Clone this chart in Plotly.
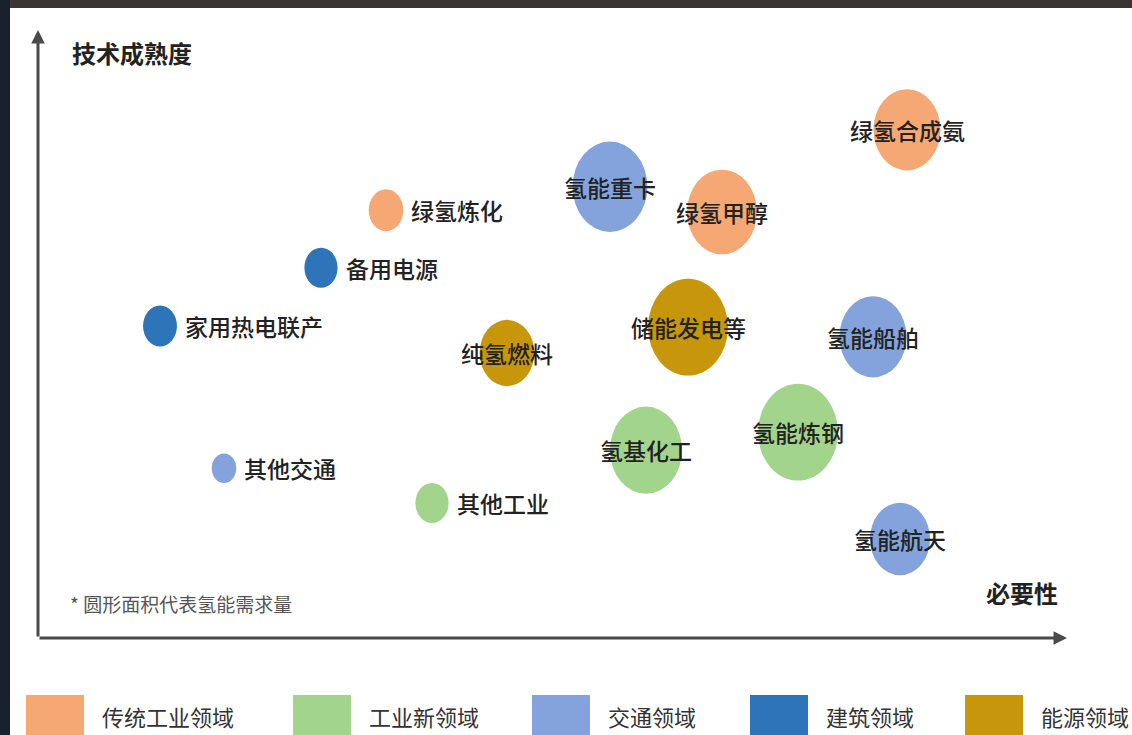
import math
import plotly.graph_objects as go

# ---- data -------------------------------------------------------------
apps = ["绿氢合成氨", "氢能重卡", "绿氢甲醇", "绿氢炼化", "备用电源", "家用热电联产",
        "纯氢燃料", "储能发电等", "氢能船舶", "氢基化工", "氢能炼钢", "其他交通",
        "其他工业", "氢能航天"]
sector = ["传统工业领域", "交通领域", "传统工业领域", "传统工业领域", "建筑领域", "建筑领域",
          "能源领域", "能源领域", "交通领域", "工业新领域", "工业新领域", "交通领域",
          "工业新领域", "交通领域"]
necessity = [8.69, 5.72, 6.84, 3.48, 2.83, 1.22, 4.69, 6.50, 8.35, 6.08, 7.60, 1.86, 3.94, 8.62]
maturity = [8.47, 7.52, 7.10, 7.13, 6.17, 5.20, 4.75, 5.18, 5.02, 3.13, 3.43, 2.83, 2.25, 1.65]
demand = [45, 56, 49, 12, 11, 11.5, 30, 64, 45, 52, 64, 6, 11, 36]
label_side = ["center", "center", "center", "right", "right", "right", "center",
              "center", "center", "center", "center", "right", "right", "center"]

sectors = ["传统工业领域", "工业新领域", "交通领域", "建筑领域", "能源领域"]
sector_colors = ["#F5A874", "#A3D48B", "#84A2DB", "#2E74B8", "#C8960A"]

# ---- geometry ---------------------------------------------------------
W, H = 1132, 735
ORIGIN_PX = (38, 638)          # where the two axis arrows meet
PX_PER_X, PX_PER_Y = 100, 60   # screen pixels per axis unit
DIAM_K = 10                    # bubble diameter (px) = DIAM_K * sqrt(demand)
V_STRETCH = 1.21               # bubbles are drawn slightly taller than wide

x_range = [-ORIGIN_PX[0] / PX_PER_X, (W - ORIGIN_PX[0]) / PX_PER_X]
y_range = [-(H - ORIGIN_PX[1]) / PX_PER_Y, ORIGIN_PX[1] / PX_PER_Y]


def px_x(p):
    return (p - ORIGIN_PX[0]) / PX_PER_X


def px_y(p):
    return (ORIGIN_PX[1] - p) / PX_PER_Y


FONT = "Noto Sans CJK SC, Noto Sans, sans-serif"
TEXT = "#222222"
color_of = dict(zip(sectors, sector_colors))

fig = go.Figure()
shapes = []
annotations = []

# bubbles: area proportional to hydrogen demand
for name, sec, x, y, d, side in zip(apps, sector, necessity, maturity, demand, label_side):
    diam = DIAM_K * math.sqrt(d)
    rx = diam / 2 / PX_PER_X
    ry = diam / 2 * V_STRETCH / PX_PER_Y
    shapes.append(dict(type="circle", xref="x", yref="y",
                       x0=x - rx, x1=x + rx, y0=y - ry, y1=y + ry,
                       fillcolor=color_of[sec], line=dict(width=0), layer="below"))
    label_font = dict(family=FONT, size=23, color=TEXT, weight=500)
    if side == "center":
        annotations.append(dict(x=x, y=y, xref="x", yref="y", text=name, showarrow=False,
                                xanchor="center", yanchor="middle", font=label_font))
    else:
        annotations.append(dict(x=x, y=y, xref="x", yref="y", text=name, showarrow=False,
                                xanchor="left", yanchor="middle", xshift=diam / 2 + 6,
                                font=label_font))

# invisible trace carrying hover info for each application
fig.add_trace(go.Scatter(
    x=necessity, y=maturity, mode="markers",
    marker=dict(size=[DIAM_K * math.sqrt(d) for d in demand], opacity=0),
    text=[f"{a}<br>{s}" for a, s in zip(apps, sector)],
    hoverinfo="text", showlegend=False))

# axis arrows
AX_COLOR = "#4a4a4a"
annotations.append(dict(x=px_x(1067), y=0, ax=0, ay=0, xref="x", yref="y",
                        axref="x", ayref="y", text="", showarrow=True,
                        arrowhead=2, arrowsize=0.9, arrowwidth=3, arrowcolor=AX_COLOR))
annotations.append(dict(x=0, y=px_y(30), ax=0, ay=0, xref="x", yref="y",
                        axref="x", ayref="y", text="", showarrow=True,
                        arrowhead=2, arrowsize=0.9, arrowwidth=3, arrowcolor=AX_COLOR))

# axis titles and footnote
annotations.append(dict(x=px_x(70), y=px_y(52), xref="x", yref="y", text="<b>技术成熟度</b>",
                        showarrow=False, xanchor="left", yanchor="middle",
                        font=dict(family=FONT, size=24, color=TEXT)))
annotations.append(dict(x=px_x(1060), y=px_y(592), xref="x", yref="y", text="<b>必要性</b>",
                        showarrow=False, xanchor="right", yanchor="middle",
                        font=dict(family=FONT, size=24, color=TEXT)))
annotations.append(dict(x=px_x(68), y=px_y(603), xref="x", yref="y",
                        text="* 圆形面积代表氢能需求量",
                        showarrow=False, xanchor="left", yanchor="middle",
                        font=dict(family=FONT, size=19, color="#555555")))

# legend row along the bottom
LEG_BOX_LEFT = [26, 293, 532, 750, 965]
BOX_W, BOX_TOP = 58, 695
for left, name, col in zip(LEG_BOX_LEFT, sectors, sector_colors):
    shapes.append(dict(type="rect", xref="paper", yref="paper",
                       x0=left / W, x1=(left + BOX_W) / W,
                       y0=0, y1=(H - BOX_TOP) / H,
                       fillcolor=col, line=dict(width=0)))
    annotations.append(dict(x=(left + BOX_W + 16) / W, y=(H - 716) / H,
                            xref="paper", yref="paper", text=name, showarrow=False,
                            xanchor="left", yanchor="middle",
                            font=dict(family=FONT, size=22, color="#333333")))

# dark frame around the white page
shapes.append(dict(type="rect", xref="paper", yref="paper", x0=0, x1=1,
                   y0=(H - 8) / H, y1=1, fillcolor="#3a3434", line=dict(width=0), layer="above"))
shapes.append(dict(type="rect", xref="paper", yref="paper", x0=0, x1=10 / W,
                   y0=0, y1=1, fillcolor="#19202e", line=dict(width=0), layer="above"))

fig.update_layout(
    width=W, height=H,
    margin=dict(l=0, r=0, t=0, b=0),
    paper_bgcolor="white", plot_bgcolor="white",
    xaxis=dict(range=x_range, visible=False, fixedrange=True),
    yaxis=dict(range=y_range, visible=False, fixedrange=True),
    shapes=shapes, annotations=annotations,
    showlegend=False,
)

fig.write_html("out.html")
